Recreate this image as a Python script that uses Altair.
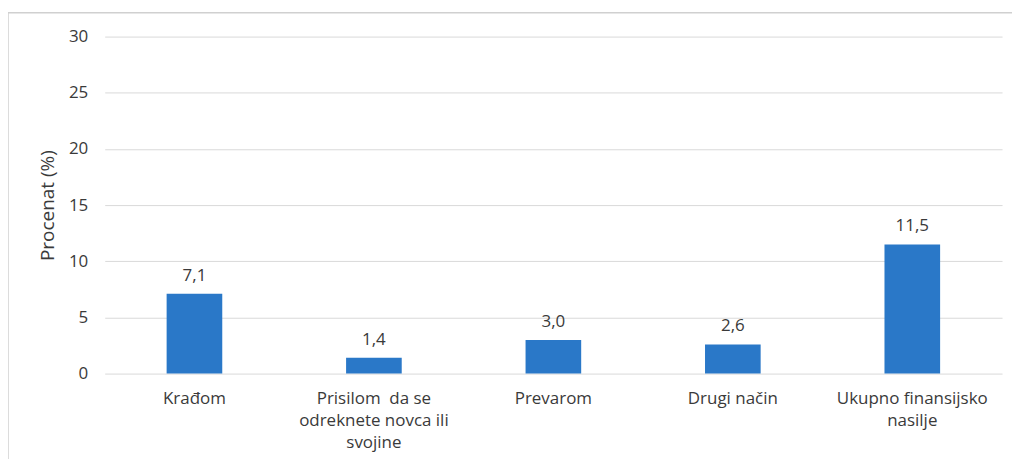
import altair as alt
import pandas as pd

categories = ["Krađom", "Prisilom\u00a0 da se|odreknete novca ili|svojine", "Prevarom", "Drugi način", "Ukupno finansijsko|nasilje"]
values = [7.1, 1.4, 3.0, 2.6, 11.5]
y_ticks = [0, 5, 10, 15, 20, 25, 30]

df = pd.DataFrame({"cat": categories, "val": values})
df["lbl"] = [f"{v:.1f}".replace(".", ",") for v in values]

FONT = "Open Sans"
TXT = "#3a3a3a"

x = alt.X("cat:N", sort=None, title=None,
          scale=alt.Scale(paddingInner=0.69, paddingOuter=0.345),
          axis=alt.Axis(labelExpr="split(datum.label, '|')", labelAngle=0,
                        labelFont=FONT, labelFontSize=17, labelColor=TXT,
                        labelPadding=17, labelLineHeight=22, ticks=False,
                        domain=False, grid=False))
y = alt.Y("val:Q", title="Procenat (%)",
          scale=alt.Scale(domain=[0, 30], nice=False),
          axis=alt.Axis(values=y_ticks, labelFont=FONT, labelFontSize=17,
                        labelColor=TXT, labelPadding=17, ticks=False, domain=False,
                        gridColor="#d9d9d9", gridWidth=1,
                        titleFont=FONT, titleFontSize=19, titleColor=TXT,
                        titleFontWeight="normal", titlePadding=11))

base = alt.Chart(df)
bars = base.mark_bar(color="#2a78c8").encode(x=x, y=y)
texts = base.mark_text(baseline="bottom", dy=-9, font=FONT, fontSize=17, color=TXT).encode(
    x=alt.X("cat:N", sort=None), y="val:Q", text="lbl:N")
border = alt.Chart(pd.DataFrame({"a": [0]})).mark_rect(
    fill=None, stroke="#d0d0d0", strokeWidth=1.5).encode(
    x=alt.value(-97), x2=alt.value(930), y=alt.value(-24), y2=alt.value(460))

chart = alt.layer(border, bars, texts).properties(
    width=900, height=338,
    background="white",
    autosize=alt.AutoSizeParams(type="none"),
    padding={"left": 97, "top": 28, "right": 10, "bottom": 85},
).configure_view(stroke=None)

chart.save("out.html", embed_options={"renderer": "svg", "actions": False})
